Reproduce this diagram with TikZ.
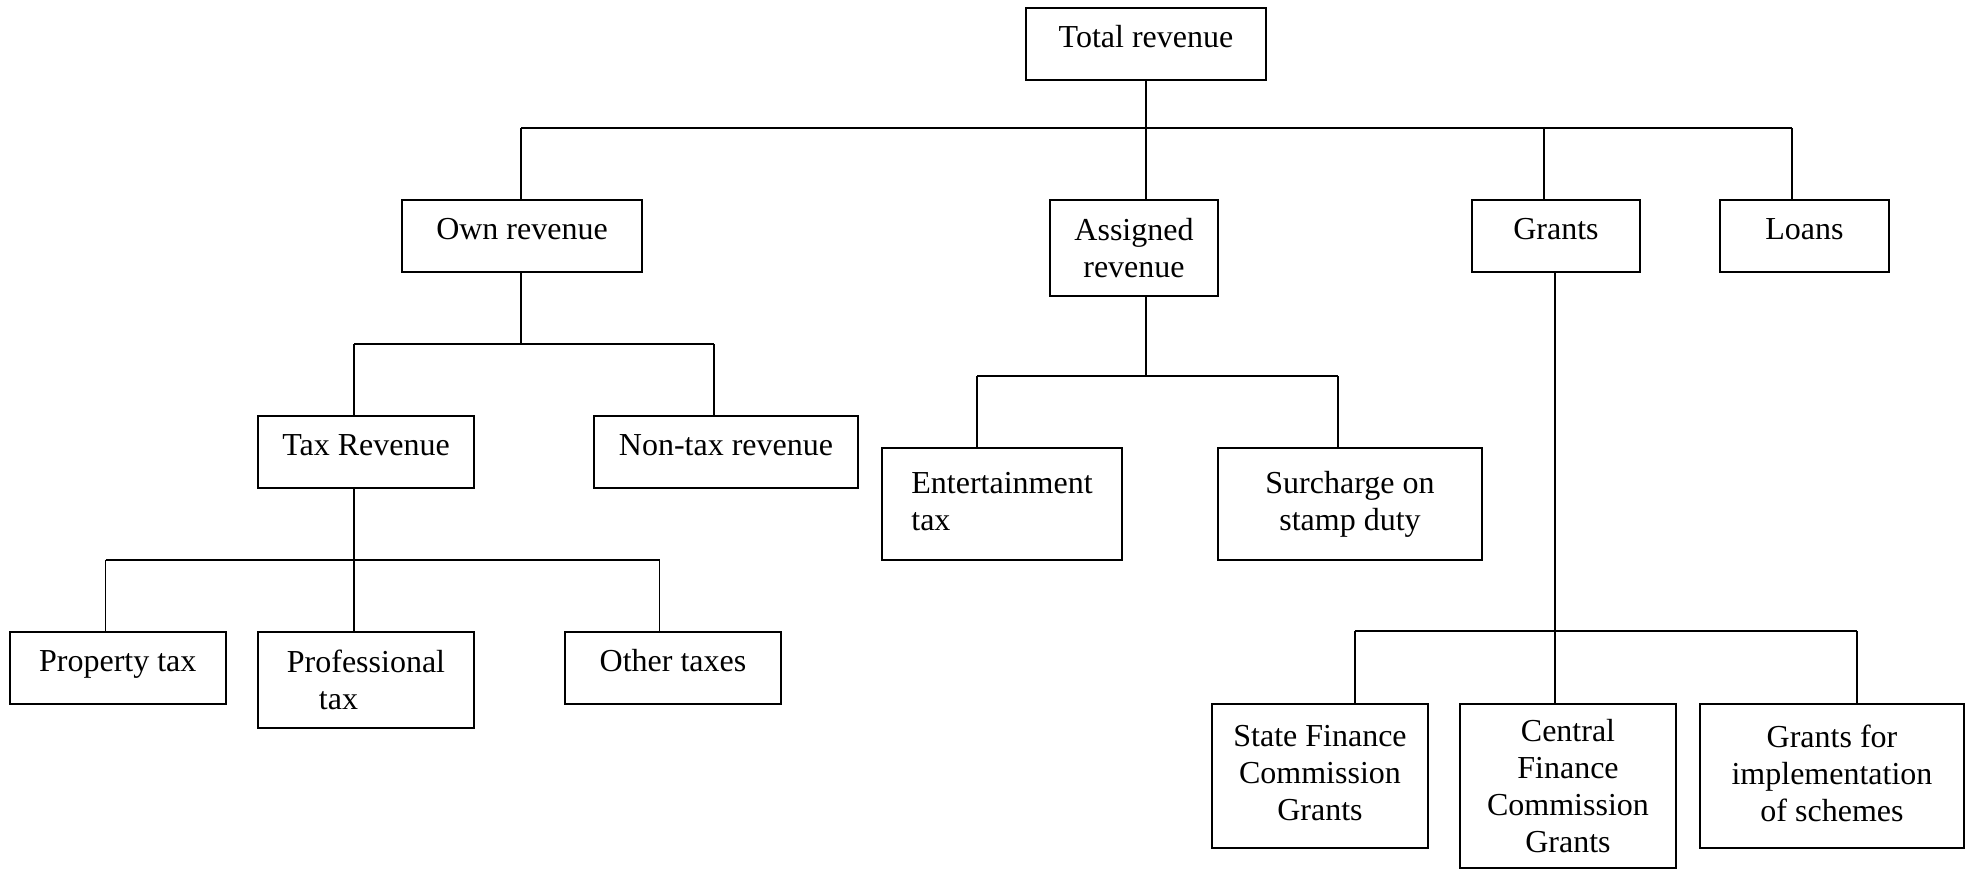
\documentclass[tikz,border=0pt]{standalone}
\usepackage{fontspec}
\setmainfont{Liberation Serif}
\begin{document}
\begin{tikzpicture}[x=0.5pt,y=-0.5pt,
  box/.style={draw, line width=0.9pt, inner sep=0pt, font=\fontsize{16}{18.5}\selectfont},
  one/.style={text height=0.7em, text depth=0.36em},
  up/.style={text depth=0.3em},
  bus/.style={line width=0.9pt},
  drop/.style={line width=0.6pt}]
\useasboundingbox (0,0) rectangle (1970,869);
% level 0
\node[box,one,minimum width=120pt,minimum height=36pt] (total) at (1146,44) {Total revenue};
% level 1
\node[box,one,minimum width=120pt,minimum height=36pt] (own) at (522,236) {Own revenue};
\node[box,align=center,minimum width=84pt,minimum height=48pt] (assigned) at (1134,248) {Assigned\\revenue};
\node[box,one,minimum width=84pt,minimum height=36pt] (grants) at (1556,236) {Grants};
\node[box,one,minimum width=84.5pt,minimum height=36pt] (loans) at (1804.5,236) {Loans};
% level 2
\node[box,one,minimum width=108pt,minimum height=36pt] (taxrev) at (366,452) {Tax Revenue};
\node[box,one,minimum width=132pt,minimum height=36pt] (nontax) at (726,452) {Non-tax revenue};
\node[box,up,align=left,minimum width=120pt,minimum height=56pt] (ent) at (1002,504) {Entertainment\\tax};
\node[box,align=center,text depth=0.35em,minimum width=132pt,minimum height=56pt] (surch) at (1350,504) {Surcharge on\\stamp duty};
% level 3
\node[box,one,minimum width=108pt,minimum height=36pt] (prop) at (117.75,668) {Property tax};
\node[box,align=left,minimum width=108pt,minimum height=48pt] (prof) at (366,680) {Professional\\\hspace*{1em}tax};
\node[box,one,minimum width=108pt,minimum height=36pt] (other) at (673,668) {Other taxes};
\node[box,up,align=center,minimum width=108pt,minimum height=72pt] (sfc) at (1320,776) {State Finance\\Commission\\Grants};
\node[box,align=center,minimum width=108pt,minimum height=82pt] (cfc) at (1568,786) {Central\\Finance\\Commission\\Grants};
\node[box,up,align=center,minimum width=132pt,minimum height=72pt] (gfi) at (1832,776) {Grants for\\implementation\\of schemes};
% connectors: total revenue
\coordinate (b1L) at (521,128);
\coordinate (b1G) at (1544,128);
\coordinate (b1R) at (1792,128);
\draw[bus] (b1L) -- (b1R);
\draw[drop] (total.south) -- (total.south |- assigned.north);
\draw[drop] (b1L) -- (b1L |- own.north);
\draw[drop] (b1G) -- (b1G |- grants.north);
\draw[drop] (b1R) -- (b1R |- loans.north);
% own revenue
\coordinate (b2C) at (521,344);
\coordinate (b2L) at (354,344);
\coordinate (b2R) at (714,344);
\draw[drop] (b2C |- own.south) -- (b2C);
\draw[bus] (b2L) -- (b2R);
\draw[drop] (b2L) -- (b2L |- taxrev.north);
\draw[drop] (b2R) -- (b2R |- nontax.north);
% tax revenue
\coordinate (b3C) at (354,560);
\coordinate (b3L) at (105.5,560);
\coordinate (b3R) at (659.5,560);
\draw[drop] (b3C |- taxrev.south) -- (b3C);
\draw[bus] (b3L) -- (b3R);
\draw[drop] (b3L) -- (b3L |- prop.north);
\draw[drop] (b3C) -- (b3C |- prof.north);
\draw[drop] (b3R) -- (b3R |- other.north);
% assigned revenue
\coordinate (b4C) at (1146,376);
\coordinate (b4L) at (977,376);
\coordinate (b4R) at (1338,376);
\draw[drop] (b4C |- assigned.south) -- (b4C);
\draw[bus] (b4L) -- (b4R);
\draw[drop] (b4L) -- (b4L |- ent.north);
\draw[drop] (b4R) -- (b4R |- surch.north);
% grants
\coordinate (b5C) at (1555,631);
\coordinate (b5L) at (1355,631);
\coordinate (b5R) at (1857,631);
\draw[drop] (b5C |- grants.south) -- (b5C);
\draw[bus] (b5L) -- (b5R);
\draw[drop] (b5L) -- (b5L |- sfc.north);
\draw[drop] (b5C) -- (b5C |- cfc.north);
\draw[drop] (b5R) -- (b5R |- gfi.north);
\end{tikzpicture}
\end{document}
